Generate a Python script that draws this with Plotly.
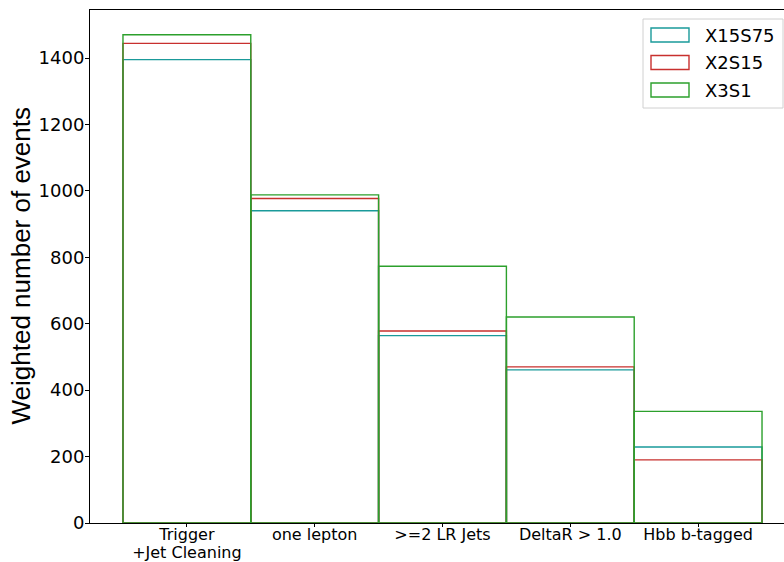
import plotly.graph_objects as go

categories = ["Trigger\n+Jet Cleaning", "one lepton", ">=2 LR Jets", "DeltaR > 1.0", "Hbb b-tagged"]
x15s75 = [1395, 940, 564, 461, 229]
x2s15 = [1444, 977, 578, 470, 190]
x3s1 = [1470, 988, 773, 620, 336]

series = [("X15S75", x15s75, "#1a9a9a"), ("X2S15", x2s15, "#c8302e"), ("X3S1", x3s1, "#2ca02c")]
centers = [i + 0.5 for i in range(len(categories))]

def fmt_tick(label, size=16):
    return "<br>".join(f"<span style='font-size:{size}px'>{ln.replace('>', '&gt;')}</span>"
                       for ln in label.split("\n"))

ticktext = [fmt_tick(c) for c in categories]

W, H = 784, 562
ml, mr, mt, mb = 90, 0, 10, 39

fig = go.Figure()
for name, vals, col in series:
    fig.add_trace(go.Bar(
        x=centers, y=vals, width=1.0, name=name, showlegend=False,
        marker=dict(color="rgba(0,0,0,0)", line=dict(color=col, width=1.4)),
    ))

# custom legend (pixel -> paper coords)
def px(x):
    return (x - ml) / (W - ml - mr)
def py(y):
    return 1 - (y - mt) / (H - mt - mb)

shapes = [dict(type="rect", xref="paper", yref="paper", x0=px(643), x1=px(783), y0=py(108), y1=py(19),
               line=dict(color="#d0d0d0", width=1), fillcolor="white", layer="above")]
annotations = []
rows = [35, 62.5, 90]
for (name, vals, col), yc in zip(series, rows):
    shapes.append(dict(type="rect", xref="paper", yref="paper", x0=px(651), x1=px(689),
                       y0=py(yc + 7), y1=py(yc - 7), line=dict(color=col, width=1.4),
                       fillcolor="rgba(0,0,0,0)", layer="above"))
    annotations.append(dict(xref="paper", yref="paper", x=px(703), y=py(yc), text=name,
                            showarrow=False, xanchor="left", yanchor="middle",
                            font=dict(size=18, family="DejaVu Sans", color="black")))

# y-axis title
annotations.append(dict(xref="paper", yref="paper", x=px(20), y=0.5, text="Weighted number of events",
                        textangle=-90, showarrow=False, xanchor="center", yanchor="middle",
                        font=dict(size=26, family="Liberation Sans", color="black")))

fig.update_layout(
    width=W, height=H,
    margin=dict(l=ml, r=mr, t=mt, b=mb),
    plot_bgcolor="white", paper_bgcolor="white",
    barmode="overlay", showlegend=False,
    font=dict(family="DejaVu Sans", color="black"),
    shapes=shapes, annotations=annotations,
    xaxis=dict(range=[-0.258, 5.172], tickvals=centers, ticktext=ticktext, automargin=False,
               showgrid=False, zeroline=False, showline=True, linecolor="black",
               linewidth=1, mirror=True, ticks="outside", ticklen=3, tickcolor="black",
               tickfont=dict(size=13.5), ticklabelstandoff=-3),
    yaxis=dict(range=[0, 1544.5], tickvals=[0, 200, 400, 600, 800, 1000, 1200, 1400], automargin=False,
               showgrid=False, zeroline=False, showline=True, linecolor="black",
               linewidth=1, ticks="outside", ticklen=4, tickcolor="black",
               tickfont=dict(size=18), ticklabelstandoff=-3),
)

fig.write_html("out.html")
